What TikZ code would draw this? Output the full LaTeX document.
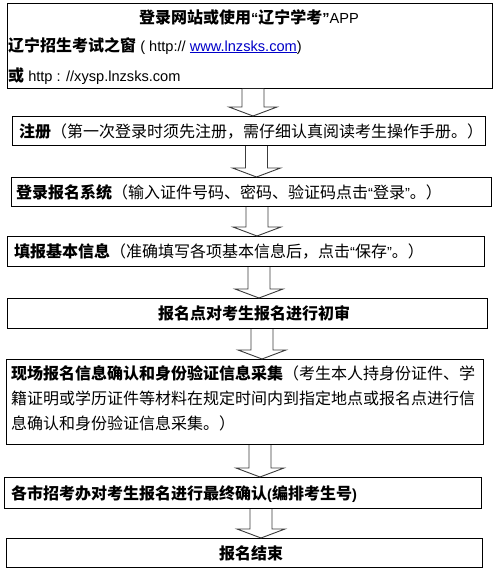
\documentclass[tikz,border=0pt]{standalone}
\usepackage{fontspec}
\setmainfont{Liberation Sans}
\newfontfamily\cjk[Scale=1.0959]{Noto Sans CJK SC}
\newcommand\zh[1]{{\cjk #1}}
\newcommand\zhb[1]{{\cjk\bfseries #1}}
\definecolor{linkblue}{RGB}{0,0,200}
\definecolor{arrline}{RGB}{60,60,60}
\tikzset{
  box/.style={draw=black, line width=1pt, fill=white, anchor=north west, inner sep=0pt},
  txt/.style={inner sep=0pt, text height=13.3pt, text depth=1.1pt, font=\fontsize{14.6}{17}\selectfont},
  arr/.style={draw=arrline, line width=0.9pt, fill=white, line join=miter},
}
\newcommand\blockarrow[3]{%
  \coordinate (s) at (#1,0 |- #2.south);
  \coordinate (e) at (#1,0 |- #3.north);
  \draw[arr] ([xshift=-11pt]s) -- ([xshift=-11pt,yshift=9pt]e) -- ([xshift=-24pt,yshift=9pt]e)
    -- (e) -- ([xshift=24pt,yshift=9pt]e) -- ([xshift=11pt,yshift=9pt]e) -- ([xshift=11pt]s);
}
\begin{document}
\begin{tikzpicture}[x=1pt,y=-1pt]
\fill[white] (0,0) rectangle (495,575);
\useasboundingbox (0,0) rectangle (495,575);

% boxes
\node[box, minimum width=485pt, minimum height=85pt] (b1) at (7,3) {};
\node[box, minimum width=473pt, minimum height=29pt] (b2) at (12,116) {};
\node[box, minimum width=480pt, minimum height=29pt] (b3) at (11,177) {};
\node[box, minimum width=477pt, minimum height=30pt] (b4) at (7,236) {};
\node[box, minimum width=480pt, minimum height=30pt] (b5) at (7,298) {};
\node[box, minimum width=477pt, minimum height=85pt] (b6) at (6,359) {};
\node[box, minimum width=477pt, minimum height=31pt] (b7) at (4,477) {};
\node[box, minimum width=476pt, minimum height=29pt] (b8) at (6,538) {};

% texts
\node[txt] (t1a) at (249,17) {\zhb{登录网站或使用}\textbf{“}\zhb{辽宁学考}\textbf{”}APP};
\node[txt, anchor=west] (t1b) at (8,45) {\zhb{辽宁招生考试之窗} ( http:// \textcolor{linkblue}{\underline{www.lnzsks.com}})};
\node[txt, anchor=west] (t1c) at (8,75) {\zhb{或} http : //xysp.lnzsks.com};
\node[txt, anchor=west] (t2) at (19,131) {\zhb{注册}\zh{（第一次登录时须先注册，需仔细认真阅读考生操作手册。）}};
\node[txt, anchor=west] (t3) at (16,192) {\zhb{登录报名系统}\zh{（输入证件号码、密码、验证码点击}“\zh{登录}”\zh{。）}};
\node[txt, anchor=west] (t4) at (14,251.5) {\zhb{填报基本信息}\zh{（准确填写各项基本信息后，点击}“\zh{保存}”\zh{。）}};
\node[txt] (t5) at (254,313) {\zhb{报名点对考生报名进行初审}};
\node[txt, anchor=west] (t6a) at (11,373) {\zhb{现场报名信息确认和身份验证信息采集}\zh{（考生本人持身份证件、学}};
\node[txt, anchor=west] (t6b) at (11,398) {\zh{籍证明或学历证件等材料在规定时间内到指定地点或报名点进行信}};
\node[txt, anchor=west] (t6c) at (11,423) {\zh{息确认和身份验证信息采集。）}};
\node[txt, anchor=west] (t7) at (11,493) {\zhb{各市招考办对考生报名进行最终确认}\textbf{(}\zhb{编排考生号}\textbf{)}};
\node[txt] (t8) at (251,553) {\zhb{报名结束}};

% arrows
\blockarrow{253}{b1}{b2}
\blockarrow{256.5}{b2}{b3}
\blockarrow{257}{b3}{b4}
\blockarrow{259}{b4}{b5}
\blockarrow{262}{b5}{b6}
\blockarrow{260}{b6}{b7}
\blockarrow{261}{b7}{b8}
\end{tikzpicture}
\end{document}
